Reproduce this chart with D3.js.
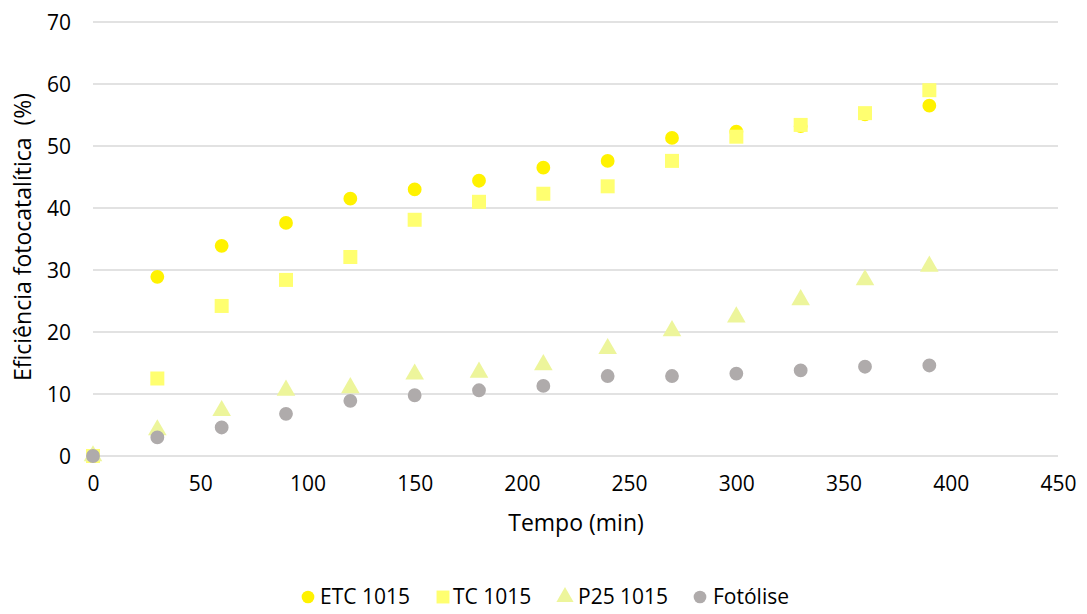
<!DOCTYPE html>
<html>
<head>
<meta charset="utf-8">
<script src="https://cdn.jsdelivr.net/npm/d3@7"></script>
<style>
  html, body { margin: 0; padding: 0; background: #fff; }
  svg { display: block; }
  text { font-family: "Open Sans", sans-serif; fill: #000; }
</style>
</head>
<body>
<svg id="chart" width="1087" height="614"></svg>
<script>
const times = [0, 30, 60, 90, 120, 150, 180, 210, 240, 270, 300, 330, 360, 390];
const etc1015 = [0, 28.9, 33.9, 37.6, 41.5, 43.0, 44.4, 46.5, 47.6, 51.3, 52.3, 53.2, 55.1, 56.5];
const tc1015 = [0, 12.5, 24.2, 28.4, 32.1, 38.1, 41.0, 42.3, 43.5, 47.6, 51.5, 53.4, 55.3, 59.0];
const p251015 = [0, 4.2, 7.3, 10.6, 11.0, 13.2, 13.5, 14.7, 17.3, 20.2, 22.4, 25.2, 28.4, 30.6];
const fotolise = [0, 3.0, 4.6, 6.8, 8.9, 9.8, 10.6, 11.3, 12.9, 12.9, 13.3, 13.8, 14.4, 14.6];
const seriesNames = ["ETC 1015", "TC 1015", "P25 1015", "Fotólise"];
const xTicks = [0, 50, 100, 150, 200, 250, 300, 350, 400, 450];
const yTicks = [0, 10, 20, 30, 40, 50, 60, 70];
const xTitle = "Tempo (min)";
const yTitle = "Eficiência fotocatalítica  (%)";

const seriesValues = [etc1015, tc1015, p251015, fotolise];
const colors = ["#FFF200", "#FFFF70", "#EDF59B", "#AFABAB"];
const shapes = [d3.symbolCircle, d3.symbolSquare, d3.symbolTriangle, d3.symbolCircle];
const sizes = [150, 196, 150, 150];

const svg = d3.select("#chart");
const x = d3.scaleLinear().domain([0, 450]).range([93, 1058]);
const y = d3.scaleLinear().domain([0, 70]).range([456, 22]);

// gridlines
svg.append("g")
  .selectAll("line")
  .data(yTicks)
  .join("line")
  .attr("x1", x(0)).attr("x2", x(450))
  .attr("y1", d => y(d)).attr("y2", d => y(d))
  .attr("stroke", "#D9D9D9").attr("stroke-width", 1.5);

// y axis
const yAxis = svg.append("g")
  .attr("transform", `translate(${x(0)},0)`)
  .call(d3.axisLeft(y).tickValues(yTicks).tickSize(0).tickPadding(22).tickFormat(d3.format("d")));
yAxis.select(".domain").remove();
yAxis.selectAll("text").style("font-size", "21px").style("font-family", "'Open Sans', sans-serif").attr("dy", "0.35em");

// x axis
const xAxis = svg.append("g")
  .attr("transform", `translate(0,${y(0)})`)
  .call(d3.axisBottom(x).tickValues(xTicks).tickSize(0).tickPadding(20).tickFormat(d3.format("d")));
xAxis.select(".domain").remove();
xAxis.selectAll("text").style("font-size", "21px").style("font-family", "'Open Sans', sans-serif");

// titles
svg.append("text")
  .attr("x", 576).attr("y", 531)
  .attr("text-anchor", "middle")
  .style("font-size", "23px")
  .text(xTitle);

svg.append("text")
  .attr("transform", `translate(31,237) rotate(-90)`)
  .attr("text-anchor", "middle")
  .style("font-size", "23px")
  .attr("xml:space", "preserve")
  .style("white-space", "pre")
  .text(yTitle);

// points
seriesValues.forEach((vals, i) => {
  svg.append("g")
    .selectAll("path")
    .data(times.map((t, j) => [t, vals[j]]))
    .join("path")
    .attr("d", d3.symbol().type(shapes[i]).size(sizes[i]))
    .attr("transform", d => `translate(${x(d[0])},${y(d[1])})`)
    .attr("fill", colors[i]);
});

// legend
const legendMarkerX = [308, 443, 565, 700];
const legendTextX = [320, 453, 578, 713];
const legend = svg.append("g");
seriesNames.forEach((name, i) => {
  legend.append("path")
    .attr("d", d3.symbol().type(shapes[i]).size(sizes[i] * 0.85))
    .attr("transform", `translate(${legendMarkerX[i]},597)`)
    .attr("fill", colors[i]);
  legend.append("text")
    .attr("x", legendTextX[i]).attr("y", 597)
    .attr("dy", "0.35em")
    .style("font-size", "21px")
    .text(name);
});
</script>
</body>
</html>
